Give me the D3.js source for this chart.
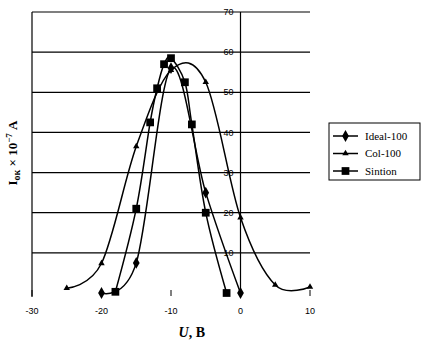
<!DOCTYPE html>
<html lang="en">
<head>
    <meta charset="UTF-8" />
    <script src="https://cdn.jsdelivr.net/npm/d3@7/dist/d3.min.js"></script>
    <style>
        body { margin: 0; background: #fff; }
        svg { display: block; }
    </style>
</head>
<body>
    <div id="chart"></div>
    <script>
        // data
        var xTicks = [-30, -20, -10, 0, 10];
        var yTicks = [10, 20, 30, 40, 50, 60, 70];

        var idealU = [-20, -15, -10, -5, 0];
        var idealI = [0, 7.5, 56, 25, 0];

        var colU = [-25, -20, -15, -10, -5, 0, 5, 10];
        var colI = [1.2, 7.4, 36.5, 55.5, 52.5, 18.8, 2, 1.5];

        var sinU = [-18, -15, -13, -12, -11, -10, -8, -7, -5, -2];
        var sinI = [0.3, 21, 42.5, 51, 57, 58.5, 52.5, 42, 20, 0];

        var seriesNames = ["Ideal-100", "Col-100", "Sintion"];

        var W = 423, H = 343;
        var margin = { top: 12, right: 113, bottom: 50, left: 32 };

        var svg = d3.select("#chart").append("svg")
            .attr("width", W)
            .attr("height", H);

        var x = d3.scaleLinear().domain([-30, 10]).range([margin.left, W - margin.right]);
        var y = d3.scaleLinear().domain([0, 70]).range([H - margin.bottom, margin.top]);

        // gridlines
        svg.append("g").selectAll("line")
            .data(yTicks)
            .enter().append("line")
            .attr("x1", x(-30)).attr("x2", x(10))
            .attr("y1", d => y(d)).attr("y2", d => y(d))
            .attr("stroke", "#000").attr("stroke-width", 1.2);

        // left border and the vertical axis at U = 0
        svg.append("line")
            .attr("x1", x(-30)).attr("x2", x(-30))
            .attr("y1", y(70)).attr("y2", y(0) + 4)
            .attr("stroke", "#000").attr("stroke-width", 1.2);
        svg.append("line")
            .attr("x1", x(0)).attr("x2", x(0))
            .attr("y1", y(70)).attr("y2", y(0))
            .attr("stroke", "#000").attr("stroke-width", 1.2);

        // x ticks, no axis line
        svg.append("g").selectAll("line")
            .data(xTicks)
            .enter().append("line")
            .attr("x1", d => x(d)).attr("x2", d => x(d))
            .attr("y1", y(0) - 3).attr("y2", y(0) + 3)
            .attr("stroke", "#000");

        svg.append("g").selectAll("text")
            .data(xTicks)
            .enter().append("text")
            .attr("x", d => x(d))
            .attr("y", y(0) + 21)
            .attr("text-anchor", "middle")
            .attr("font-family", "Liberation Sans, Arial, sans-serif")
            .attr("font-size", 9)
            .text(d => d);

        // y tick labels sit just left of the U = 0 axis
        svg.append("g").selectAll("text")
            .data(yTicks)
            .enter().append("text")
            .attr("x", x(0) - 7)
            .attr("y", d => y(d))
            .attr("dy", "0.35em")
            .attr("text-anchor", "end")
            .attr("font-family", "Liberation Sans, Arial, sans-serif")
            .attr("font-size", 9)
            .text(d => d);

        // smoothed lines, like the spreadsheet's (uniform Catmull-Rom)
        var line = d3.line()
            .x(d => x(d[0]))
            .y(d => y(d[1]))
            .curve(d3.curveCardinal.tension(0));

        var series = [
            { name: seriesNames[0], pts: d3.zip(idealU, idealI), shape: d3.symbolDiamond, size: 40 },
            { name: seriesNames[1], pts: d3.zip(colU, colI), shape: d3.symbolTriangle, size: 18 },
            { name: seriesNames[2], pts: d3.zip(sinU, sinI), shape: d3.symbolSquare, size: 60 }
        ];

        series.forEach(function (s) {
            svg.append("path")
                .datum(s.pts)
                .attr("fill", "none")
                .attr("stroke", "#000")
                .attr("stroke-width", 1.5)
                .attr("d", line);

            svg.append("g").selectAll("path")
                .data(s.pts)
                .enter().append("path")
                .attr("transform", d => `translate(${x(d[0])},${y(d[1])})`)
                .attr("d", d3.symbol().type(s.shape).size(s.size))
                .attr("fill", "#000");
        });

        // axis titles
        var yt = svg.append("text")
            .attr("transform", `translate(17, 153) rotate(-90)`)
            .attr("text-anchor", "middle")
            .attr("font-family", "Liberation Serif, Times New Roman, serif")
            .attr("font-weight", "bold")
            .attr("font-size", 13);
        yt.append("tspan").text("I");
        yt.append("tspan").attr("font-size", 10).attr("dy", 3).text("ок");
        yt.append("tspan").attr("dy", -3).text(" × 10");
        yt.append("tspan").attr("font-size", 9).attr("dy", -5).text("−7");
        yt.append("tspan").attr("dy", 5).text(" A");

        var xt = svg.append("text")
            .attr("x", x(-7))
            .attr("y", 337)
            .attr("text-anchor", "middle")
            .attr("font-family", "Liberation Serif, Times New Roman, serif")
            .attr("font-weight", "bold")
            .attr("font-size", 14);
        xt.append("tspan").attr("font-style", "italic").text("U");
        xt.append("tspan").text(",  В");

        // legend
        var legend = svg.append("g").attr("transform", "translate(329,123)");
        legend.append("rect")
            .attr("width", 91).attr("height", 57)
            .attr("fill", "#fff").attr("stroke", "#000");

        var li = legend.selectAll(".legend")
            .data(series)
            .enter().append("g")
            .attr("class", "legend")
            .attr("transform", (d, i) => `translate(0, ${13 + i * 17.5})`);

        li.append("line")
            .attr("x1", 4).attr("x2", 29)
            .attr("stroke", "#000").attr("stroke-width", 1.5);
        li.append("path")
            .attr("transform", "translate(16.5,0)")
            .attr("d", d => d3.symbol().type(d.shape).size(d.size)())
            .attr("fill", "#000");
        li.append("text")
            .attr("x", 36)
            .attr("dy", "0.35em")
            .attr("font-family", "Liberation Serif, Times New Roman, serif")
            .attr("font-size", 11)
            .text(d => d.name);
    </script>
</body>
</html>
